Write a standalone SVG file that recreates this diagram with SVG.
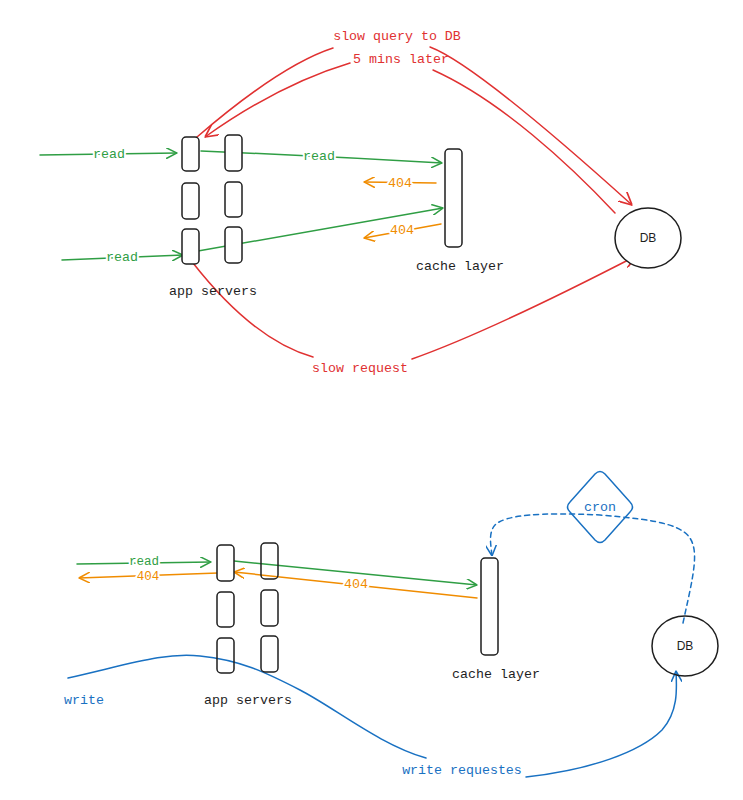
<svg xmlns="http://www.w3.org/2000/svg" width="743" height="800" viewBox="0 0 743 800">
<style>
.box{fill:#fff;stroke:#1e1e1e;stroke-width:1.5}
.t{font-family:"Liberation Mono","DejaVu Sans Mono",monospace;font-size:13.3px;text-anchor:middle;dominant-baseline:central}
.s{font-size:12.5px}
.dbt{font-family:"Liberation Sans",Arial,sans-serif;font-size:12px;text-anchor:middle;dominant-baseline:central;fill:#1e1e1e}
.ln{fill:none;stroke-width:1.5;stroke-linecap:round}
.g{stroke:#2f9e44}.o{stroke:#f08c00}.r{stroke:#e03131}.b{stroke:#1971c2}
.lbl{stroke:#fff;stroke-width:4;paint-order:stroke;stroke-linejoin:round}
</style>
<defs>
<marker id="ag" viewBox="0 0 10 10" refX="10" refY="5" markerWidth="11" markerHeight="11" markerUnits="userSpaceOnUse" orient="auto"><path d="M0,0 L10,5 L0,10" fill="none" stroke="#2f9e44" stroke-width="1.4"/></marker>
<marker id="ao" viewBox="0 0 10 10" refX="10" refY="5" markerWidth="11" markerHeight="11" markerUnits="userSpaceOnUse" orient="auto"><path d="M0,0 L10,5 L0,10" fill="none" stroke="#f08c00" stroke-width="1.4"/></marker>
<marker id="ar" viewBox="0 0 10 10" refX="10" refY="5" markerWidth="13" markerHeight="13" markerUnits="userSpaceOnUse" orient="auto"><path d="M0,0 L10,5 L0,10" fill="none" stroke="#e03131" stroke-width="1.3"/></marker>
<marker id="ab" viewBox="0 0 10 10" refX="10" refY="5" markerWidth="11" markerHeight="11" markerUnits="userSpaceOnUse" orient="auto"><path d="M0,0 L10,5 L0,10" fill="none" stroke="#1971c2" stroke-width="1.4"/></marker>
</defs>
<rect width="743" height="800" fill="#fff"/>

<g id="connectors">
<!-- top -->
<path class="ln g" d="M40,155 L177,153" marker-end="url(#ag)"/>
<path class="ln g" d="M201,151 Q320,156 442,163" marker-end="url(#ag)"/>
<path class="ln g" d="M62,260 L183,255" marker-end="url(#ag)"/>
<path class="ln g" d="M198,251 L443,208" marker-end="url(#ag)"/>
<path class="ln o" d="M436,183 L364,182" marker-end="url(#ao)"/>
<path class="ln o" d="M441,224 L364,238" marker-end="url(#ao)"/>
<path class="ln r" d="M197,137 C240,100 290,62 333,48"/>
<path class="ln r" d="M430,47 C470,62 560,140 632,205" marker-end="url(#ar)"/>
<path class="ln r" d="M615,213 C570,165 500,100 433,70"/>
<path class="ln r" d="M350,63 C300,78 250,105 205,137" marker-end="url(#ar)"/>
<path class="ln r" d="M193,263 C230,310 270,345 313,357"/>
<path class="ln r" d="M412,359 C480,335 570,290 636,256" marker-end="url(#ar)"/>
<!-- bottom -->
<path class="ln g" d="M77,564 L211,562" marker-end="url(#ag)"/>
<path class="ln o" d="M218,573 L79,578" marker-end="url(#ao)"/>
<path class="ln g" d="M234,561 L477,585" marker-end="url(#ag)"/>
<path class="ln o" d="M477,598 L234,572" marker-end="url(#ao)"/>
<path class="ln b" d="M68,678 C130,664 165,652 200,656 C240,660 265,672 300,690 S380,745 426,758"/>
<path class="ln b" d="M526,777 C590,770 640,752 662,730 C678,712 677,690 676,671" marker-end="url(#ab)"/>
<path class="ln b" stroke-dasharray="5 4" d="M683,623 C690,590 698,560 693,545 C688,525 660,520 600,515 C540,512 505,515 495,525 C488,533 491,545 492,556" marker-end="url(#ab)"/>
<!-- labels -->
<text class="t lbl" x="109" y="154" fill="#2f9e44">read</text>
<text class="t lbl" x="319" y="156" fill="#2f9e44">read</text>
<text class="t lbl" x="122" y="257" fill="#2f9e44">read</text>
<text class="t lbl" x="400" y="183" fill="#f08c00">404</text>
<text class="t lbl" x="402" y="230" fill="#f08c00">404</text>
<text class="t" x="397" y="36" fill="#e03131">slow query to DB</text>
<text class="t" x="401" y="59" fill="#e03131">5 mins later</text>
<text class="t" x="360" y="368" fill="#e03131">slow request</text>
<text class="t s lbl" x="144" y="562" fill="#2f9e44">read</text>
<text class="t s lbl" x="148" y="576.5" fill="#f08c00">404</text>
<text class="t lbl" x="356" y="584" fill="#f08c00">404</text>
<text class="t" x="84" y="700" fill="#1971c2">write</text>
<text class="t" x="462" y="770" fill="#1971c2">write requestes</text>
</g>

<g id="app-servers-top">
<rect class="box" x="182" y="137" width="17" height="34" rx="4"/>
<rect class="box" x="182" y="183" width="17" height="36" rx="4"/>
<rect class="box" x="182" y="229" width="17" height="35" rx="4"/>
<rect class="box" x="225" y="135" width="17" height="36" rx="4"/>
<rect class="box" x="225" y="182" width="17" height="35" rx="4"/>
<rect class="box" x="225" y="227" width="17" height="36" rx="4"/>
<text class="t" x="213" y="291" fill="#1e1e1e">app servers</text>
</g>
<g id="cache-top">
<rect class="box" x="445" y="149" width="17" height="98" rx="4"/>
<text class="t" x="460" y="266" fill="#1e1e1e">cache layer</text>
</g>
<g id="db-top">
<ellipse cx="648" cy="238" rx="33" ry="30" fill="#fff" stroke="#1e1e1e" stroke-width="1.5"/>
<text class="dbt" x="648" y="238">DB</text>
</g>

<g id="app-servers-bottom">
<rect class="box" x="217" y="545" width="17" height="36" rx="4"/>
<rect class="box" x="217" y="592" width="17" height="35" rx="4"/>
<rect class="box" x="217" y="638" width="17" height="35" rx="4" style="fill:none"/>
<rect class="box" x="261" y="543" width="17" height="36" rx="4" style="fill:none"/>
<rect class="box" x="261" y="590" width="17" height="36" rx="4"/>
<rect class="box" x="261" y="636" width="17" height="36" rx="4" style="fill:none"/>
<text class="t" x="248" y="700" fill="#1e1e1e">app servers</text>
</g>
<g id="cache-bottom">
<rect class="box" x="481" y="558" width="17" height="97" rx="4"/>
<text class="t" x="496" y="674" fill="#1e1e1e">cache layer</text>
</g>
<g id="db-bottom">
<ellipse cx="685" cy="646" rx="33" ry="30" fill="none" stroke="#1e1e1e" stroke-width="1.5"/>
<text class="dbt" x="685" y="646">DB</text>
</g>
<g id="cron">
<path d="M595,474 Q600,469 605,474 L630,502 Q635,507 630,512 L605,540 Q600,545 595,540 L570,512 Q565,507 570,502 Z" fill="none" stroke="#1971c2" stroke-width="1.5"/>
<text class="t" x="600" y="507" fill="#1971c2">cron</text>
</g>
</svg>
